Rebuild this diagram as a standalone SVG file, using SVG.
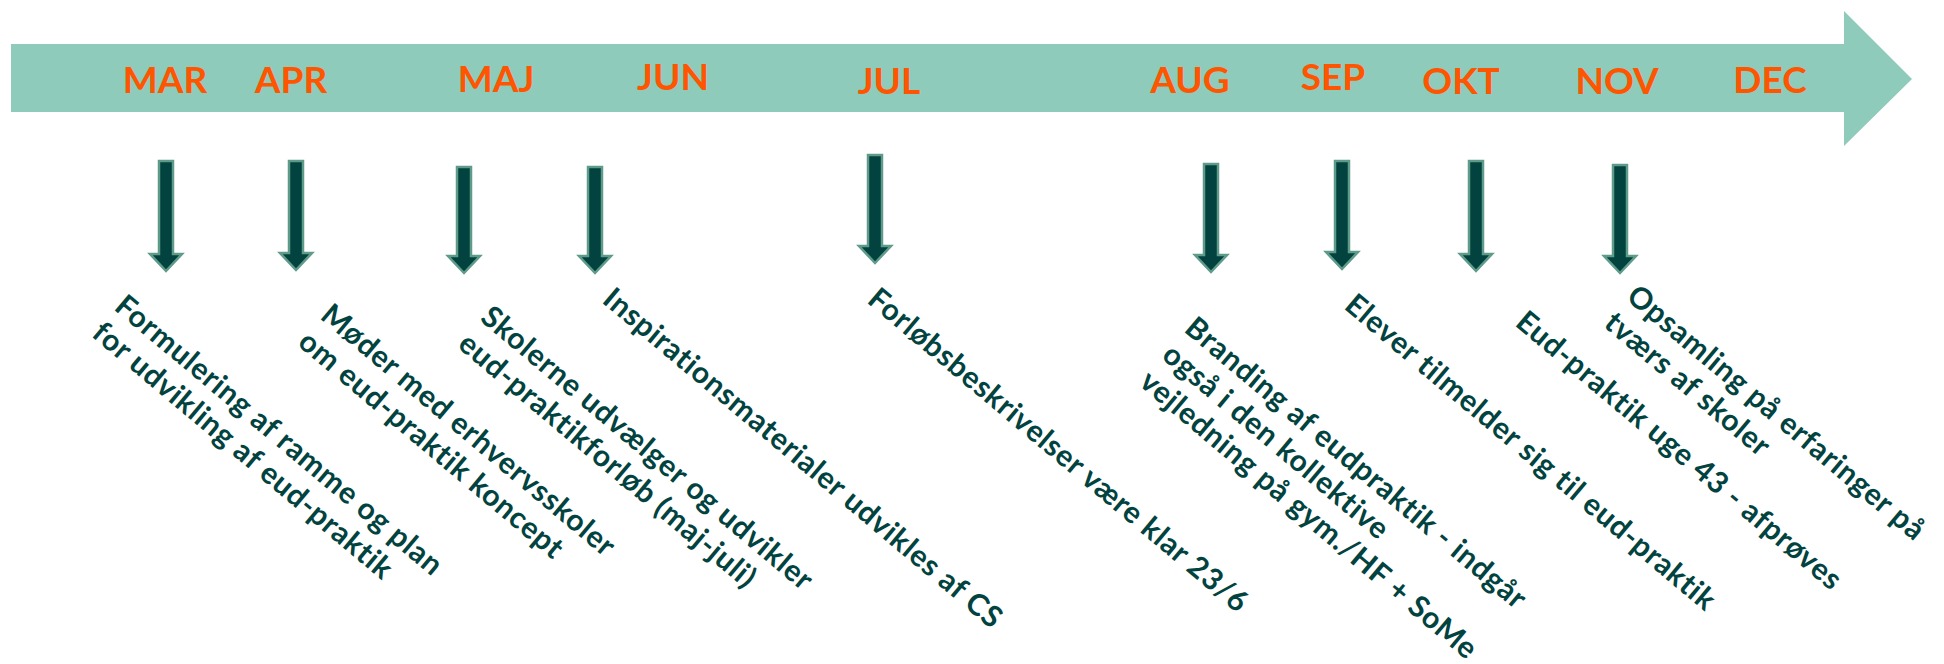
<svg xmlns="http://www.w3.org/2000/svg" width="1944" height="664" viewBox="0 0 1944 664">
<style>
.band{fill:#8ECBBA;}
.month{font-family:Lato,"Liberation Sans",sans-serif;font-weight:700;font-size:37px;fill:#FF5500;text-anchor:middle;}
.ev{font-family:Lato,"Liberation Sans",sans-serif;font-weight:700;font-size:30px;letter-spacing:0.7px;fill:#02433F;}
.arr{fill:#02433F;stroke:#5F9B89;stroke-width:2.5;stroke-linejoin:miter;}
</style>
<rect width="1944" height="664" fill="#FFFFFF"/>
<g id="timeline">
<polygon class="band" points="11,44 1844,44 1844,11 1912,79 1844,146 1844,112 11,112"/>
<g id="months">
<text class="month" x="165" y="93">MAR</text>
<text class="month" x="291" y="93">APR</text>
<text class="month" x="496" y="92">MAJ</text>
<text class="month" x="673" y="90">JUN</text>
<text class="month" x="889" y="94">JUL</text>
<text class="month" x="1190" y="93">AUG</text>
<text class="month" x="1333" y="90">SEP</text>
<text class="month" x="1461" y="94">OKT</text>
<text class="month" x="1617" y="94">NOV</text>
<text class="month" x="1770" y="93">DEC</text>
</g>
</g>
<g id="connectors">
<polygon class="arr" points="159,161 173,161 173,254 182,254 166,271 150,254 159,254"/>
<polygon class="arr" points="289,161 303,161 303,253 312,253 296,270 280,253 289,253"/>
<polygon class="arr" points="457,167 471,167 471,256 480,256 464,273 448,256 457,256"/>
<polygon class="arr" points="588,167 602,167 602,256 611,256 595,273 579,256 588,256"/>
<polygon class="arr" points="868,155 882,155 882,246 891,246 875,263 859,246 868,246"/>
<polygon class="arr" points="1204,164 1218,164 1218,255 1227,255 1211,272 1195,255 1204,255"/>
<polygon class="arr" points="1335,161 1349,161 1349,252 1358,252 1342,269 1326,252 1335,252"/>
<polygon class="arr" points="1469,161 1483,161 1483,254 1492,254 1476,271 1460,254 1469,254"/>
<polygon class="arr" points="1613,165 1627,165 1627,256 1636,256 1620,273 1604,256 1613,256"/>
</g>
<g id="ev-mar"><text class="ev" transform="translate(113,309) rotate(40)"><tspan x="0" y="0">Formulering af ramme og plan</tspan><tspan x="0" y="35">for udvikling af eud-praktik</tspan></text></g>
<g id="ev-apr"><text class="ev" transform="translate(319,318) rotate(40)"><tspan x="0" y="0">Møder med erhvervsskoler</tspan><tspan x="0" y="35">om eud-praktik koncept</tspan></text></g>
<g id="ev-maj"><text class="ev" transform="translate(479,320) rotate(40)"><tspan x="0" y="0">Skolerne udvælger og udvikler</tspan><tspan x="0" y="35">eud-praktikforløb (maj-juli)</tspan></text></g>
<g id="ev-jun"><text class="ev" transform="translate(601,302) rotate(40)">Inspirationsmaterialer udvikles af CS</text></g>
<g id="ev-jul"><text class="ev" transform="translate(866,302) rotate(40)">Forløbsbeskrivelser være klar 23/6</text></g>
<g id="ev-aug"><text class="ev" transform="translate(1183,331) rotate(40)"><tspan x="0" y="0">Branding af eudpraktik - indgår</tspan><tspan x="0" y="35">også i den kollektive</tspan><tspan x="0" y="70">vejledning på gym./HF + SoMe</tspan></text></g>
<g id="ev-sep"><text class="ev" transform="translate(1343,308) rotate(40)">Elever tilmelder sig til eud-praktik</text></g>
<g id="ev-okt"><text class="ev" transform="translate(1514,325) rotate(40)">Eud-praktik uge 43 - afprøves</text></g>
<g id="ev-nov"><text class="ev" transform="translate(1625,299) rotate(40)"><tspan x="0" y="0">Opsamling på erfaringer på</tspan><tspan x="0" y="35">tværs af skoler</tspan></text></g>
</svg>
